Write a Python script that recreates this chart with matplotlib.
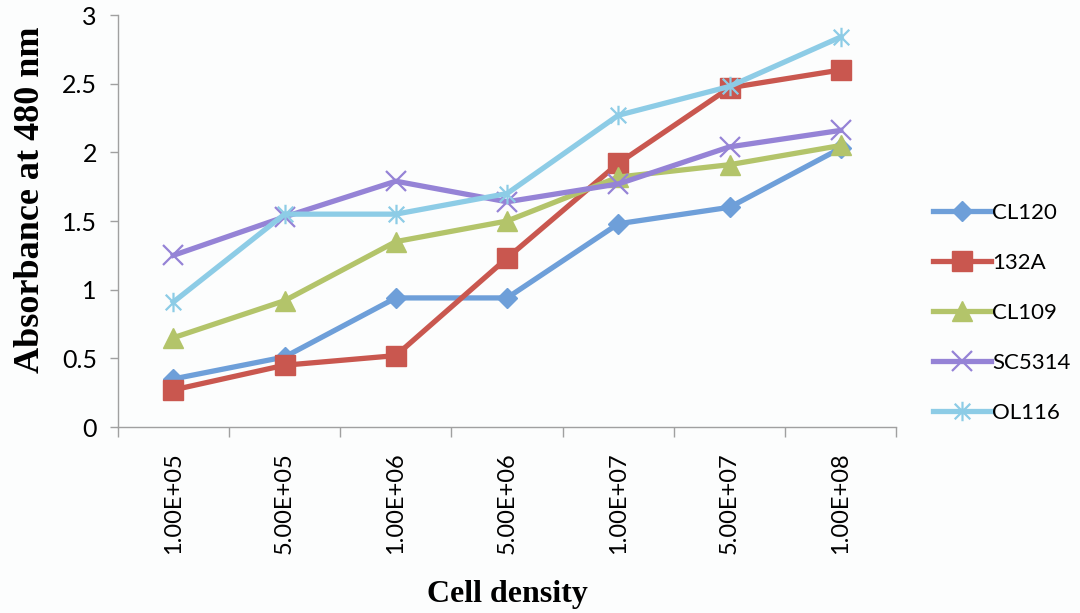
import matplotlib
matplotlib.use("Agg")
import matplotlib.pyplot as plt
from matplotlib.path import Path
from matplotlib.ticker import FixedLocator, FuncFormatter

# cell densities on the x axis (categorical)
densities = ["1.00E+05", "5.00E+05", "1.00E+06", "5.00E+06",
             "1.00E+07", "5.00E+07", "1.00E+08"]

# absorbance at 480 nm for each strain
cl120 = [0.35, 0.51, 0.94, 0.94, 1.48, 1.60, 2.03]
a132 = [0.27, 0.45, 0.52, 1.23, 1.92, 2.47, 2.60]
cl109 = [0.65, 0.92, 1.35, 1.50, 1.82, 1.91, 2.05]
sc5314 = [1.25, 1.53, 1.79, 1.64, 1.77, 2.04, 2.16]
ol116 = [0.91, 1.55, 1.55, 1.70, 2.27, 2.48, 2.84]

strains = ["CL120", "132A", "CL109", "SC5314", "OL116"]

# x with a vertical bar through it (excel "star" marker)
star = Path([(-1, -1), (1, 1), (-1, 1), (1, -1), (0, -1.25), (0, 1.25)],
            [Path.MOVETO, Path.LINETO, Path.MOVETO, Path.LINETO,
             Path.MOVETO, Path.LINETO])

styles = [
    dict(color="#6E9FD9", marker="D", ms=10),
    dict(color="#C9574F", marker="s", ms=14),
    dict(color="#B3C46A", marker="^", ms=14),
    dict(color="#9583D6", marker="x", ms=14, mew=1.6),
    dict(color="#8DCCE6", marker=star, ms=14, mew=1.6),
]

fig = plt.figure(figsize=(10.8, 6.13), dpi=100)
fig.patch.set_facecolor("#FCFDFD")
ax = fig.add_axes([0.109, 0.3034, 0.721, 0.6721])
ax.set_facecolor("#FCFDFD")

x = list(range(len(densities)))
for name, vals, st in zip(strains, [cl120, a132, cl109, sc5314, ol116], styles):
    ax.plot(x, vals, lw=3.8, label=name, **st)

ax.set_xlim(-0.5, len(densities) - 0.5)
ax.set_ylim(0, 3)
ax.set_yticks([0, 0.5, 1, 1.5, 2, 2.5, 3])
ax.yaxis.set_major_formatter(FuncFormatter(lambda v, p: "%g" % v))

ax.set_xticks(x)
ax.set_xticklabels(densities, rotation=90, fontsize=17, family="Lato")
ax.xaxis.set_minor_locator(FixedLocator([i - 0.5 for i in range(len(densities) + 1)]))
ax.tick_params(axis="x", which="major", length=0, pad=18)
ax.tick_params(axis="x", which="minor", length=7, color="#A0A0A0", width=1)
ax.tick_params(axis="y", length=6, color="#A0A0A0", width=1, pad=9, labelsize=18)
for lab in ax.get_yticklabels():
    lab.set_family("Lato")

for side in ["top", "right"]:
    ax.spines[side].set_visible(False)
for side in ["left", "bottom"]:
    ax.spines[side].set_color("#A0A0A0")
    ax.spines[side].set_linewidth(1)

ax.set_xlabel("Cell density", family="Liberation Serif", fontweight="bold",
              fontsize=23, labelpad=19)
ax.set_ylabel("Absorbance at 480 nm", family="Liberation Serif", fontweight="bold",
              fontsize=26)
ax.yaxis.set_label_coords(-0.091, 0.551)

leg = ax.legend(loc="center left", bbox_to_anchor=(0.864, 0.489),
                bbox_transform=fig.transFigure, frameon=False, borderpad=0,
                borderaxespad=0, prop={"family": "Lato", "size": 16},
                handlelength=2.6, handletextpad=0.05, labelspacing=1.35)

fig.savefig("out.png", dpi=100, facecolor=fig.get_facecolor())
